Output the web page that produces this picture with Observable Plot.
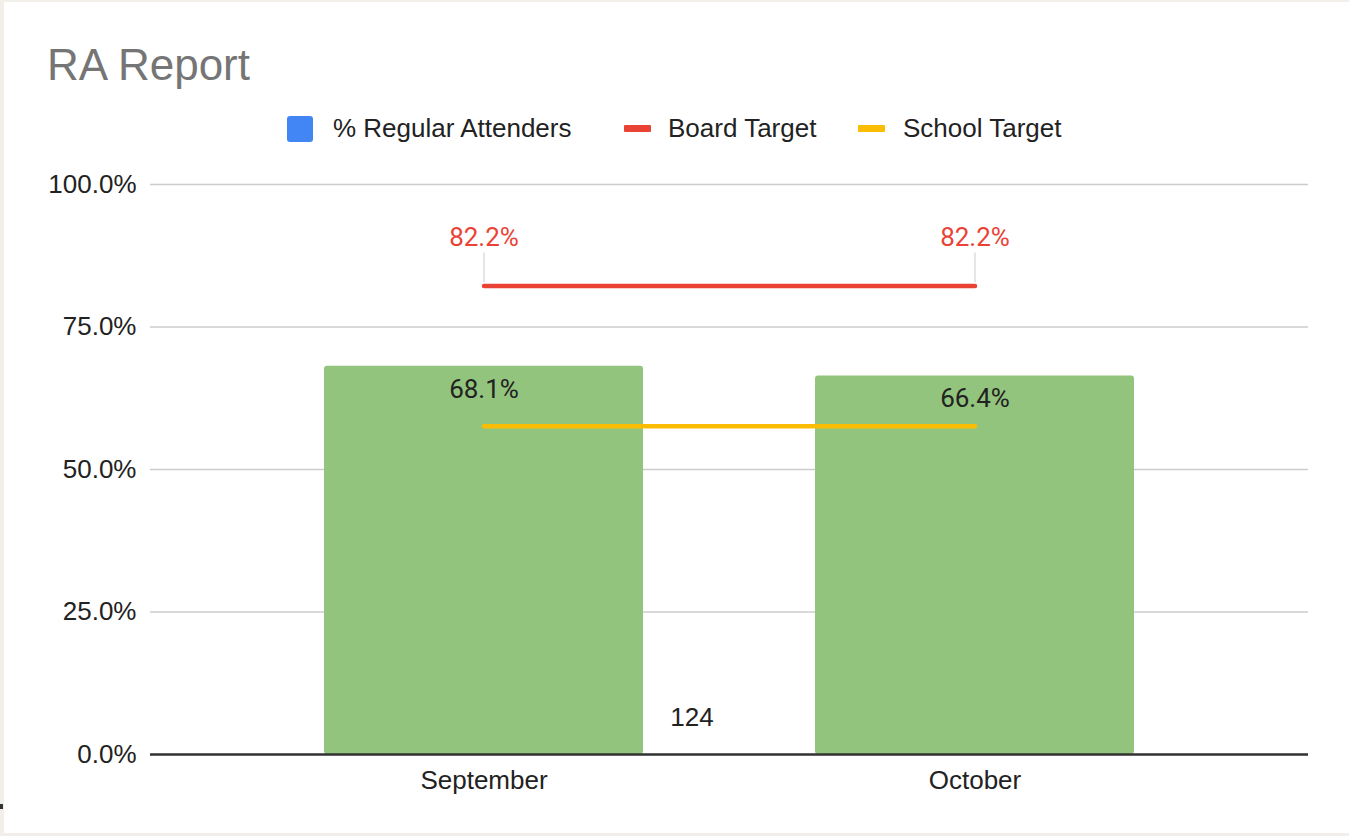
<!DOCTYPE html>
<html>
<head>
<meta charset="utf-8">
<script src="https://cdn.jsdelivr.net/npm/d3@7"></script>
<script src="https://cdn.jsdelivr.net/npm/@observablehq/plot@0.6"></script>
<style>
  html, body { margin: 0; padding: 0; background: #f2efea; width: 1349px; height: 836px; overflow: hidden; }
  #card { position: absolute; left: 4px; top: 2px; width: 1345px; height: 831px; background: #fff; }
  #title { position: absolute; left: 43px; top: 41px; font: 44px "Liberation Sans", Arial, sans-serif; line-height: 44px; color: #757575; white-space: nowrap; }
  .leg { position: absolute; top: 109px; height: 34px; display: flex; align-items: center; font: 26px "Liberation Sans", Arial, sans-serif; color: #222; white-space: nowrap; }
  .sw { position: absolute; }
  #chart { position: absolute; left: 0; top: 156px; }
  #mark { position: absolute; left: 0; top: 804px; width: 3px; height: 5px; background: #333; }
</style>
</head>
<body>
<div id="card">
  <div id="title"></div>
  <div id="legend"></div>
  <div id="chart"></div>
</div>
<div id="mark"></div>
<script>
const title = "RA Report";
const months = ["September", "October"];
const regularAttenders = [0.681, 0.664];
const boardTarget = [0.822, 0.822];
const schoolTarget = [0.576, 0.576];
const yTicks = [0, 0.25, 0.5, 0.75, 1];
const seriesNames = ["% Regular Attenders", "Board Target", "School Target"];
const seriesColors = ["#4285f4", "#ea4335", "#fbbc04"];
const barColor = "#93c47d";
const extraLabel = "124";

document.getElementById("title").textContent = title;

// legend (positions in card coordinates)
const legend = document.getElementById("legend");
const legItems = [
  {sw: 283, txt: 329, kind: "box"},
  {sw: 620, txt: 664, kind: "line"},
  {sw: 854, txt: 899, kind: "line"}
];
legItems.forEach((it, i) => {
  const s = document.createElement("div");
  s.className = "sw";
  if (it.kind === "box") {
    Object.assign(s.style, {left: it.sw + "px", top: "114px", width: "26px", height: "26px", background: seriesColors[i], borderRadius: "3px"});
  } else {
    Object.assign(s.style, {left: it.sw + "px", top: "123px", width: "27px", height: "7px", background: seriesColors[i], borderRadius: "1px"});
  }
  legend.appendChild(s);
  const t = document.createElement("div");
  t.className = "leg";
  t.style.left = it.txt + "px";
  t.textContent = seriesNames[i];
  legend.appendChild(t);
});

const data = months.map((m, i) => ({month: m, ra: regularAttenders[i], board: boardTarget[i], school: schoolTarget[i]}));

const chart = Plot.plot({
  width: 1345,
  height: 675,
  marginLeft: 146,
  marginRight: 41,
  marginTop: 26,
  marginBottom: 79,
  style: {background: "#fff", fontFamily: "'Liberation Sans', Arial, sans-serif", overflow: "visible"},
  x: {type: "band", domain: months, paddingInner: 0.35, paddingOuter: 0.352, label: null},
  y: {domain: [0, 1], label: null},
  marks: [
    Plot.gridY(yTicks, {stroke: "#cccccc", strokeOpacity: 1, strokeWidth: 1.5}),
    Plot.axisY(yTicks, {tickFormat: d3.format(".1%"), tickSize: 0, tickPadding: 14, fontSize: 26, fill: "#222", label: null}),
    Plot.axisX({tickSize: 0, tickPadding: 16, fontSize: 26, fill: "#222", label: null}),
    Plot.barY(data, {x: "month", y: "ra", fill: barColor, rx: 3}),
    Plot.ruleY([0], {stroke: "#333", strokeWidth: 2.5}),
    Plot.ruleX(data, {x: "month", y1: "board", y2: "board", insetTop: -33, insetBottom: 3, stroke: "#dddddd", strokeWidth: 1.5}),
    Plot.line(data, {x: "month", y: "board", stroke: seriesColors[1], strokeWidth: 4.5}),
    Plot.line(data, {x: "month", y: "school", stroke: seriesColors[2], strokeWidth: 4.5}),
    Plot.text(data, {x: "month", y: "board", text: d => d3.format(".1%")(d.board), dy: -48, fill: seriesColors[1], fontSize: 26, fontFamily: "Roboto, sans-serif"}),
    Plot.text(data, {x: "month", y: "ra", text: d => d3.format(".1%")(d.ra), dy: 23, fill: "#222", fontSize: 26, fontFamily: "Roboto, sans-serif"}),
    Plot.text([extraLabel], {x: () => months[0], y: () => 0, text: d => d, dx: 208, dy: -37, fill: "#222", fontSize: 26, fontFamily: "'Liberation Sans', Arial, sans-serif"})
  ]
});
document.getElementById("chart").appendChild(chart);
</script>
</body>
</html>
